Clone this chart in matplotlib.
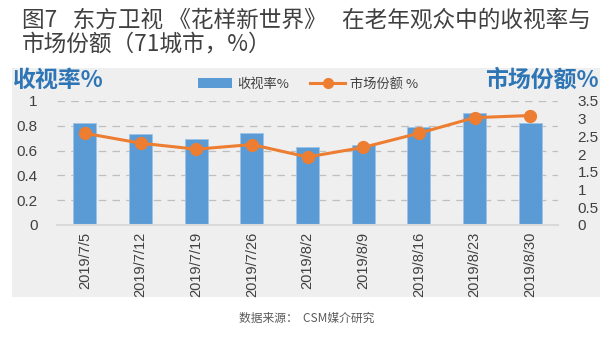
import matplotlib
matplotlib.use('Agg')
import matplotlib.pyplot as plt
from matplotlib.patches import Rectangle
from matplotlib.lines import Line2D
from matplotlib.patches import Patch

plt.rcParams['font.family'] = ['Noto Sans CJK SC', 'DejaVu Sans']

# 数据
dates = ['2019/7/5', '2019/7/12', '2019/7/19', '2019/7/26', '2019/8/2',
         '2019/8/9', '2019/8/16', '2019/8/23', '2019/8/30']
rating = [0.82, 0.73, 0.69, 0.74, 0.627, 0.645, 0.79, 0.905, 0.82]
share = [2.59, 2.31, 2.14, 2.27, 1.92, 2.19, 2.59, 3.03, 3.09]

left_ticks = [0, 0.2, 0.4, 0.6, 0.8, 1]
left_labels = ['0', '0.2', '0.4', '0.6', '0.8', '1']
right_ticks = [0, 0.5, 1, 1.5, 2, 2.5, 3, 3.5]
right_labels = ['0', '0.5', '1', '1.5', '2', '2.5', '3', '3.5']

bar_color = '#5B9BD5'
line_color = '#ED7D31'
title_blue = '#2E75B6'
txt = '#404040'

fig = plt.figure(figsize=(6.13, 3.54), dpi=100)
fig.patch.set_facecolor('white')

# 灰色背景框
fig.patches.append(Rectangle((12 / 613, 1 - 297 / 354), (600 - 12) / 613, (297 - 68) / 354,
                             transform=fig.transFigure, facecolor='#EFEFEF',
                             edgecolor='none', zorder=-5))

ax = fig.add_axes([57 / 613, 1 - 225 / 354, (558 - 57) / 613, (225 - 101) / 354])
ax.set_facecolor('none')
x = list(range(len(dates)))
ax.bar(x, rating, width=0.41, color=bar_color, edgecolor='#9DC3E6', linewidth=0.6, zorder=2)
ax.set_ylim(0, 1)
ax.set_xlim(-0.5, len(dates) - 0.5)
ax.set_yticks(left_ticks)
ax.set_yticklabels(left_labels, family='Liberation Sans', fontsize=11, color=txt)
ax.set_xticks(x)
ax.set_xticklabels(dates, rotation=90, family='Liberation Sans', fontsize=10.5, color=txt)
ax.tick_params(length=0, pad=5)
ax.tick_params(axis='y', pad=14)
for s in ['top', 'right', 'left']:
    ax.spines[s].set_visible(False)
ax.spines['bottom'].set_color('#D9D9D9')
ax.spines['bottom'].set_linewidth(1.5)
ax.yaxis.grid(True, linestyle=(0, (6, 5)), color='#BFBFBF', linewidth=0.9, zorder=0)
ax.set_axisbelow(True)

ax2 = ax.twinx()
ax2.plot(x, share, color=line_color, linewidth=2.2, marker='o', markersize=8.5, zorder=3)
ax2.set_ylim(0, 3.5)
ax2.set_yticks(right_ticks)
ax2.set_yticklabels(right_labels, family='Liberation Sans', fontsize=11, color=txt)
ax2.tick_params(length=0, pad=14)
for s in ['top', 'right', 'left', 'bottom']:
    ax2.spines[s].set_visible(False)

# 标题
fig.text(22 / 613, 1 - 20 / 354, '图7   东方卫视 《花样新世界》   在老年观众中的收视率与',
         fontsize=16.3, color=txt, va='center', ha='left', fontweight='light')
fig.text(22 / 613, 1 - 44 / 354, '市场份额（71城市，%）',
         fontsize=16.3, color=txt, va='center', ha='left', fontweight='light')

# 两侧轴标题
fig.text(13 / 613, 1 - 80 / 354, '收视率%', fontsize=16.5, fontweight='bold',
         color=title_blue, va='center', ha='left')
fig.text(599 / 613, 1 - 80 / 354, '市场份额%', fontsize=16.5, fontweight='bold',
         color=title_blue, va='center', ha='right')

# 图例
handles = [Patch(facecolor=bar_color, edgecolor='none'),
           Line2D([], [], color=line_color, linewidth=2.2, marker='o', markersize=7)]
fig.legend(handles, ['收视率%', '市场份额 %'], loc='center', bbox_to_anchor=(308 / 613, 1 - 84 / 354),
           ncol=2, frameon=False, fontsize=9.5, handlelength=2.6, handleheight=0.7,
           columnspacing=1.6, handletextpad=0.4, labelcolor=txt)

# 数据来源
fig.text(307 / 613, 1 - 318 / 354, '数据来源：  CSM媒介研究', fontsize=8.5,
         color='#595959', va='center', ha='center')

fig.savefig('out.png', dpi=100, facecolor='white')
